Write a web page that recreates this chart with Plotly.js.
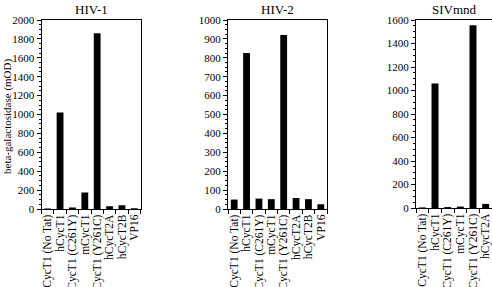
<!DOCTYPE html>
<html><head><meta charset="utf-8">
<script src="https://cdn.plot.ly/plotly-3.0.1.min.js"></script>
<style>html,body{margin:0;padding:0;background:#fff;overflow:hidden}</style>
</head><body><div id="chart" style="width:492px;height:287px"></div>
<script>
const cats8 = ["hCycT1 (No Tat)", "hCycT1", "hCycT1 (C261Y)", "mCycT1", "hCycT1 (Y261C)", "hCycT2A", "hCycT2B", "VP16"];
const catsSiv = ["hCycT1 (No Tat)", "hCycT1", "hCycT1 (C261Y)", "mCycT1", "hCycT1 (Y261C)", "hCycT2A"];
const hiv1 = [5, 1020, 15, 175, 1860, 30, 40, 8];
const hiv2 = [50, 825, 55, 52, 920, 58, 52, 25];
const sivmnd = [5, 1060, 8, 12, 1555, 35];
const titles = ["HIV-1", "HIV-2", "SIVmnd"];
const yTitle = "beta-galactosidase (mOD)";

const W = 492, H = 287;
const fam = "Liberation Serif, Times New Roman, serif";
const font = {family: fam, color: "#000", size: 11};
function px(a, b) { return [a / W, b / W]; }

const bar = (x, y, xa, ya) => ({type: "bar", x: x, y: y, xaxis: xa, yaxis: ya,
  marker: {color: "#000", line: {width: 0}}, width: 0.55, hoverinfo: "skip"});

const data = [bar(cats8, hiv1, "x", "y"), bar(cats8, hiv2, "x2", "y2"), bar(catsSiv, sivmnd, "x3", "y3")];

const xcommon = {type: "category", showline: true, linecolor: "#000", linewidth: 1,
  ticks: "outside", ticklen: 4, tickcolor: "#000", tickson: "boundaries",
  tickmode: "linear", tick0: 0, dtick: 1,
  tickangle: -90, tickfont: {family: fam, size: 11.5, color: "#000"},
  showgrid: false, zeroline: false, fixedrange: true};
const ycommon = {showline: true, linecolor: "#000", linewidth: 1, ticks: "outside",
  ticklen: 4, tickcolor: "#000", tickfont: {family: fam, size: 11, color: "#000"},
  showgrid: false, zeroline: false, fixedrange: true};

const dom = {top: 1 - 20 / H, bottom: 1 - 209 / H};

const layout = {
  width: W, height: H, margin: {l: 0, r: 0, t: 0, b: 0},
  paper_bgcolor: "#fff", plot_bgcolor: "#fff", showlegend: false, font: font,
  xaxis: Object.assign({}, xcommon, {domain: px(41.5, 140.5), anchor: "y", mirror: true, range: [-0.5, 7.5]}),
  yaxis: Object.assign({}, ycommon, {domain: [dom.bottom, dom.top], anchor: "x", mirror: true,
    range: [0, 2000], dtick: 200, minor: {dtick: 50, ticks: "outside", ticklen: 2, tickcolor: "#000"}}),
  xaxis2: Object.assign({}, xcommon, {domain: px(228, 327), anchor: "y2", mirror: true, range: [-0.5, 7.5]}),
  yaxis2: Object.assign({}, ycommon, {domain: [dom.bottom, dom.top], anchor: "x2", mirror: true,
    range: [0, 1000], dtick: 100, minor: {dtick: 25, ticks: "outside", ticklen: 2, tickcolor: "#000"}}),
  xaxis3: Object.assign({}, xcommon, {domain: px(416, 492), anchor: "y3", mirror: true, range: [-0.5, 5.5]}),
  yaxis3: Object.assign({}, ycommon, {domain: [1 - 208 / H, dom.top], anchor: "x3", mirror: false,
    range: [0, 1600], dtick: 200, minor: {dtick: 50, ticks: "outside", ticklen: 2, tickcolor: "#000"}}),
  annotations: [
    {text: titles[0], xref: "paper", yref: "paper", x: 91 / W, y: 1 - 19 / H, xanchor: "center", yanchor: "bottom", showarrow: false, font: {family: fam, size: 13, color: "#000"}},
    {text: titles[1], xref: "paper", yref: "paper", x: 277.5 / W, y: 1 - 19 / H, xanchor: "center", yanchor: "bottom", showarrow: false, font: {family: fam, size: 13, color: "#000"}},
    {text: titles[2], xref: "paper", yref: "paper", x: 454 / W, y: 1 - 19 / H, xanchor: "center", yanchor: "bottom", showarrow: false, font: {family: fam, size: 13, color: "#000"}},
    {text: yTitle, xref: "paper", yref: "paper", x: 7 / W, y: 1 - 117 / H, xanchor: "center", yanchor: "middle", textangle: -90, showarrow: false, font: {family: fam, size: 11, color: "#000"}}
  ]
};
Plotly.newPlot("chart", data, layout, {displayModeBar: false, staticPlot: true});
</script></body></html>
